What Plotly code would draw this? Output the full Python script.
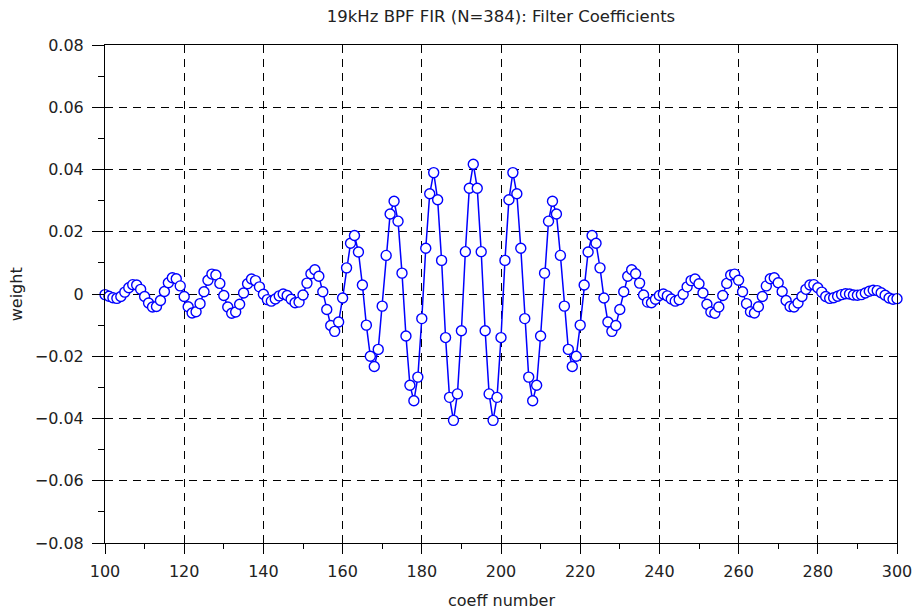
import plotly.graph_objects as go

# Coefficient index range shown on the plot
coeff_number = list(range(100, 301))

# Filter tap weights for indices 100..300
weight = [
    -0.0002, -0.0007, -0.0012, -0.0014, -0.0008, 0.0006, 0.0020, 0.0030, 0.0029, 0.0015,   # 100-109
    -0.0008, -0.0029, -0.0042, -0.0040, -0.0021, 0.0008, 0.0036, 0.0052, 0.0049, 0.0026,   # 110-119
    -0.0008, -0.0041, -0.0061, -0.0057, -0.0031, 0.0007, 0.0044, 0.0064, 0.0061, 0.0034,   # 120-129
    -0.0005, -0.0042, -0.0062, -0.0058, -0.0033, 0.0003, 0.0033, 0.0048, 0.0043, 0.0023,   # 130-139
    -0.0001, -0.0018, -0.0023, -0.0016, -0.0006, 0.0000, -0.0005, -0.0017, -0.0028, -0.0026,  # 140-149
    -0.0003, 0.0035, 0.0065, 0.0078, 0.0057, 0.0007, -0.0050, -0.0101, -0.0120, -0.0090,   # 150-159
    -0.0013, 0.0084, 0.0163, 0.0188, 0.0135, 0.0029, -0.0100, -0.0200, -0.0233, -0.0178,   # 160-169
    -0.0039, 0.0124, 0.0257, 0.0298, 0.0234, 0.0067, -0.0135, -0.0293, -0.0343, -0.0267,   # 170-179
    -0.0079, 0.0147, 0.0322, 0.0390, 0.0303, 0.0108, -0.0140, -0.0332, -0.0406, -0.0321,   # 180-189
    -0.0118, 0.0136, 0.0340, 0.0417, 0.0340, 0.0136, -0.0118, -0.0321, -0.0406, -0.0332,   # 190-199
    -0.0140, 0.0108, 0.0303, 0.0390, 0.0322, 0.0147, -0.0079, -0.0267, -0.0343, -0.0293,   # 200-209
    -0.0135, 0.0067, 0.0234, 0.0298, 0.0257, 0.0124, -0.0039, -0.0178, -0.0233, -0.0200,   # 210-219
    -0.0100, 0.0029, 0.0135, 0.0188, 0.0163, 0.0084, -0.0013, -0.0090, -0.0120, -0.0101,   # 220-229
    -0.0050, 0.0007, 0.0057, 0.0078, 0.0065, 0.0035, -0.0003, -0.0026, -0.0028, -0.0017,   # 230-239
    -0.0005, 0.0000, -0.0006, -0.0016, -0.0023, -0.0018, -0.0001, 0.0023, 0.0043, 0.0048,  # 240-249
    0.0033, 0.0003, -0.0033, -0.0058, -0.0062, -0.0042, -0.0005, 0.0034, 0.0061, 0.0064,   # 250-259
    0.0044, 0.0007, -0.0031, -0.0057, -0.0061, -0.0041, -0.0008, 0.0026, 0.0049, 0.0052,   # 260-269
    0.0036, 0.0008, -0.0021, -0.0040, -0.0042, -0.0029, -0.0008, 0.0015, 0.0029, 0.0030,   # 270-279
    0.0020, 0.0006, -0.0008, -0.0014, -0.0012, -0.0007, -0.0002, 0.0001, 0.0000, -0.0003,  # 280-289
    -0.0004, -0.0002, 0.0003, 0.0009, 0.0012, 0.0011, 0.0004, -0.0004, -0.0013, -0.0017,   # 290-299
    -0.0015,                                                                                # 300
]

x_ticks = list(range(100, 301, 20))
y_ticks = [-0.08, -0.06, -0.04, -0.02, 0, 0.02, 0.04, 0.06, 0.08]
y_tick_text = ["\u22120.08", "\u22120.06", "\u22120.04", "\u22120.02", "0",
               "0.02", "0.04", "0.06", "0.08"]

FONT = "DejaVu Sans"
TEXT_COLOR = "#222222"
BLUE = "#0000ff"
GRID_DASH = "8px,6px"

fig = go.Figure()
fig.add_trace(go.Scatter(
    x=coeff_number,
    y=weight,
    mode="lines+markers",
    line=dict(color=BLUE, width=1.5),
    marker=dict(symbol="circle", size=10, color="white",
                line=dict(color=BLUE, width=1.4)),
    showlegend=False,
    cliponaxis=False,
))

axis_common = dict(
    automargin=False,
    showline=True,
    linecolor="black",
    linewidth=1,
    mirror=True,
    showgrid=True,
    gridcolor="black",
    gridwidth=1,
    griddash=GRID_DASH,
    zeroline=False,
    ticks="outside",
    tickwidth=1,
    tickcolor="black",
    tickfont=dict(family=FONT, size=16, color=TEXT_COLOR),
)

fig.update_xaxes(
    range=[100, 300],
    tickvals=x_ticks,
    ticklen=10,
    ticklabelstandoff=4,
    minor=dict(ticks="outside", ticklen=5, tickcolor="black", dtick=10,
               tick0=100, showgrid=False),
    **axis_common,
)
fig.update_yaxes(
    range=[-0.08, 0.08],
    tickvals=y_ticks,
    ticktext=y_tick_text,
    ticklen=12,
    ticklabelstandoff=5,
    minor=dict(ticks="outside", ticklen=6, tickcolor="black", dtick=0.01,
               tick0=-0.08, showgrid=False),
    **axis_common,
)

fig.update_layout(
    width=915,
    height=616,
    margin=dict(l=105, r=18, t=45, b=73, autoexpand=False),
    paper_bgcolor="white",
    plot_bgcolor="white",
    title=dict(
        text="19kHz BPF FIR (N=384): Filter Coefficients",
        x=501 / 915, xanchor="center",
        y=1 - 16 / 616, yanchor="middle", yref="container",
        font=dict(family=FONT, size=16.5, color=TEXT_COLOR),
    ),
    annotations=[
        dict(text="coeff number", xref="paper", yref="paper",
             x=0.5, y=-0.116, xanchor="center", yanchor="middle",
             showarrow=False, font=dict(family=FONT, size=16, color=TEXT_COLOR)),
        dict(text="weight", xref="paper", yref="paper",
             x=-0.112, y=0.5, xanchor="center", yanchor="middle",
             textangle=-90, showarrow=False,
             font=dict(family=FONT, size=16, color=TEXT_COLOR)),
    ],
)

fig.write_html("out.html")
